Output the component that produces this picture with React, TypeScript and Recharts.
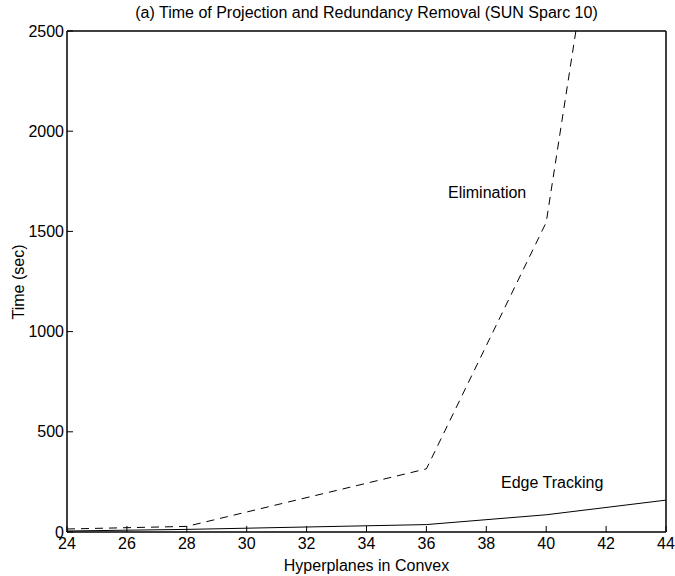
import React from 'react';
import { LineChart, Line, XAxis, YAxis, Label, Customized } from 'recharts';

const xTicks = [24, 26, 28, 30, 32, 34, 36, 38, 40, 42, 44];
const yTicks = [0, 500, 1000, 1500, 2000, 2500];
const hyperplanes = [24, 28, 36, 40, 44];
const elimination = [15, 28, 315, 1545, 5400];
const edgeTracking = [5, 13, 37, 86, 159];

const titleText = '(a) Time of Projection and Redundancy Removal (SUN Sparc 10)';
const xLabel = 'Hyperplanes in Convex';
const yLabel = 'Time (sec)';
const elimLabel = 'Elimination';
const edgeLabel = 'Edge Tracking';

const rows = hyperplanes.map((x, i) => ({ x, elim: elimination[i], edge: edgeTracking[i] }));

const FONT = '"Liberation Sans", Arial, Helvetica, sans-serif';

const Texts = () => (
  <g fontFamily={FONT} fontSize={16} fill="#000">
    <text x={366.5} y={18} textAnchor="middle">{titleText}</text>
    <text x={24} y={282} textAnchor="middle" transform="rotate(-90, 24, 282)">{yLabel}</text>
    <text x={448} y={198}>{elimLabel}</text>
    <text x={501} y={488}>{edgeLabel}</text>
  </g>
);

export default function App() {
  const tickStyle = { fill: '#000', fontSize: 16, fontFamily: FONT };
  return (
    <div style={{ position: 'absolute', left: 0, top: 0, background: '#fff' }}>
      <LineChart width={675} height={576} data={rows} margin={{ top: 30, right: 8, left: 0, bottom: 0 }}>
        <XAxis
          dataKey="x"
          type="number"
          domain={[24, 44]}
          ticks={xTicks}
          interval={0}
          allowDataOverflow
          height={44}
          tickSize={-6}
          tickMargin={12}
          axisLine={{ stroke: '#000', strokeWidth: 1.5 }}
          tickLine={{ stroke: '#000' }}
          tick={tickStyle}
        >
          <Label value={xLabel} position="insideBottom" offset={5} style={{ fill: '#000', fontSize: 16, fontFamily: FONT }} />
        </XAxis>
        <XAxis
          xAxisId="top"
          orientation="top"
          dataKey="x"
          type="number"
          domain={[24, 44]}
          ticks={xTicks}
          interval={0}
          allowDataOverflow
          height={1}
          tickSize={-6}
          axisLine={{ stroke: '#000', strokeWidth: 1.5 }}
          tickLine={{ stroke: '#000' }}
          tick={false}
        />
        <YAxis
          type="number"
          domain={[0, 2500]}
          ticks={yTicks}
          interval={0}
          allowDataOverflow
          width={67}
          tickSize={-6}
          tickMargin={9}
          axisLine={{ stroke: '#000', strokeWidth: 1.5 }}
          tickLine={{ stroke: '#000' }}
          tick={tickStyle}
        />
        <YAxis
          yAxisId="right"
          orientation="right"
          type="number"
          domain={[0, 2500]}
          ticks={yTicks}
          interval={0}
          allowDataOverflow
          width={1}
          tickSize={-6}
          axisLine={{ stroke: '#000', strokeWidth: 1.5 }}
          tickLine={{ stroke: '#000' }}
          tick={false}
        />
        <Line
          type="linear"
          dataKey="elim"
          stroke="#000"
          strokeWidth={1}
          strokeDasharray="8 6"
          dot={false}
          isAnimationActive={false}
        />
        <Line
          type="linear"
          dataKey="edge"
          stroke="#000"
          strokeWidth={1}
          dot={false}
          isAnimationActive={false}
        />
        <Customized component={Texts} />
      </LineChart>
    </div>
  );
}
